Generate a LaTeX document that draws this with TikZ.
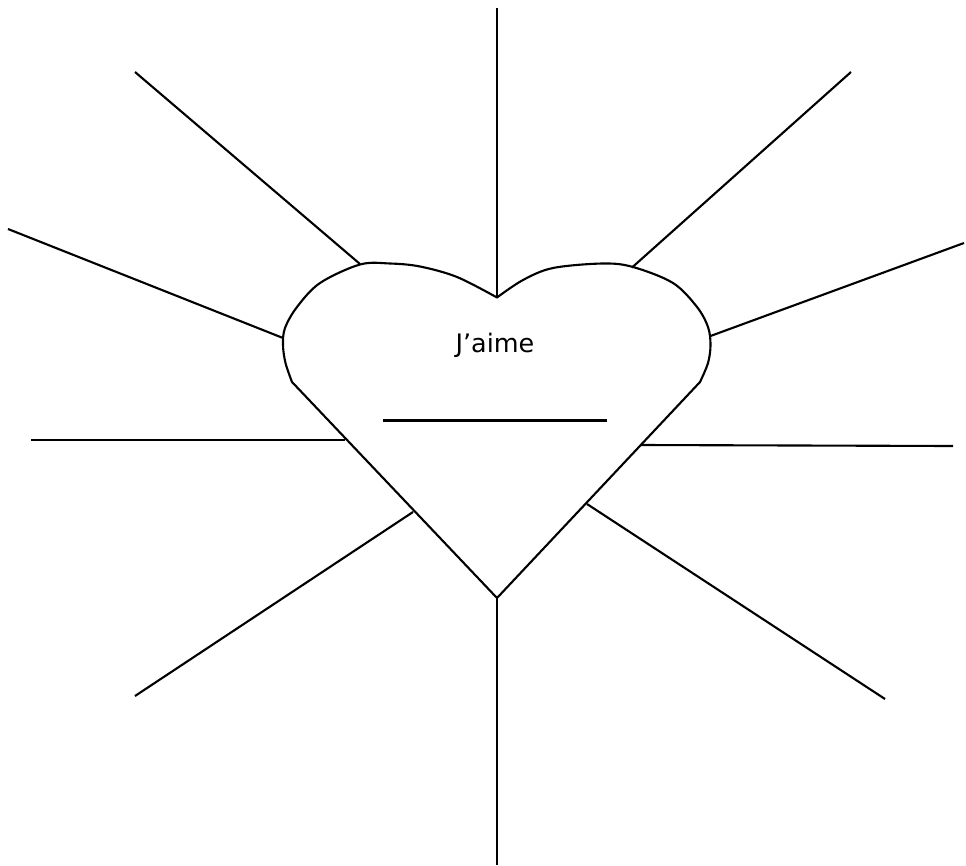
\documentclass[tikz,border=0pt]{standalone}
\usepackage{fontspec}
\setmainfont{DejaVu Sans}
\begin{document}
\begin{tikzpicture}[x=0.02cm,y=-0.02cm,line width=1.2pt,line join=round]
\useasboundingbox (0,0) rectangle (966,865);
% heart points
\coordinate (cusp) at (497.000000,297.500000);
\coordinate (tip) at (497.000000,598.000000);
\coordinate (h-ul) at (360.000000,264.000000);
\coordinate (h-ur) at (632.000000,267.500000);
\coordinate (h-l) at (283.000000,338.000000);
\coordinate (h-r) at (710.500000,336.000000);
\coordinate (h-lh) at (345.000000,440.000000);
\coordinate (h-rh) at (640.000000,445.000000);
\coordinate (h-ll) at (413.000000,512.000000);
\coordinate (h-lr) at (587.000000,504.000000);
% outer ends
\coordinate (e-top) at (497.000000,8.000000);
\coordinate (e-bot) at (497.000000,865.000000);
\coordinate (e-ul) at (135.000000,72.000000);
\coordinate (e-ur) at (851.000000,72.000000);
\coordinate (e-l) at (8.000000,229.000000);
\coordinate (e-r) at (964.000000,243.000000);
\coordinate (e-lh) at (31.000000,440.000000);
\coordinate (e-rh) at (953.000000,446.000000);
\coordinate (e-ll) at (135.000000,696.000000);
\coordinate (e-lr) at (885.000000,699.000000);
\draw (tip) -- plot[smooth,tension=0.55] coordinates {(292,382) (285.5,363) (283,345) (285,328) (297,307) (320,283) (360,264.5) (390,263.5) (420,266.5) (457,277) (497,297.5)}
  -- plot[smooth,tension=0.55] coordinates {(497,297.5) (523,280) (553,268) (603,263.5) (633,267) (673,283) (697,307) (708,327) (710.5,345) (708,363) (700,382)}
  -- (tip);
\node [anchor=base] (jaime) at (495.000000,352.000000) {\fontsize{14.5}{17}\selectfont J’aime};
\coordinate (blank-l) at (383.000000,420.500000);
\coordinate (blank-r) at (607.000000,420.500000);
\draw (blank-l) -- (blank-r);
\draw (cusp) -- (e-top);
\draw (tip) -- (e-bot);
\draw (h-ul) -- (e-ul);
\draw (h-ur) -- (e-ur);
\draw (h-l) -- (e-l);
\draw (h-r) -- (e-r);
\draw (h-lh) -- (e-lh);
\draw (h-rh) -- (e-rh);
\draw (h-ll) -- (e-ll);
\draw (h-lr) -- (e-lr);
\end{tikzpicture}
\end{document}
